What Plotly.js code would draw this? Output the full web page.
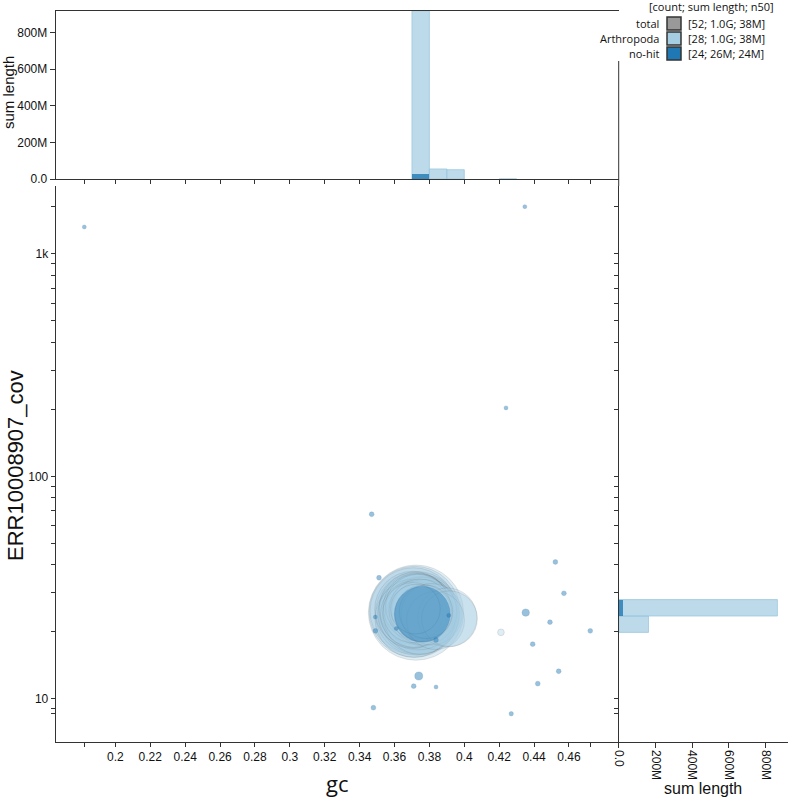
<!DOCTYPE html>
<html><head><meta charset="utf-8">
<script src="https://cdn.plot.ly/plotly-3.0.1.min.js"></script>
<style>html,body{margin:0;padding:0;background:#fff}#chart{width:790px;height:798px}</style>
</head><body><div id="chart"></div>
<script>
// ---------- data ----------
// Arthropoda contigs: gc, coverage, length (Mb)
const arthGc  = [0.3723,0.3715,0.3708,0.3730,0.3740,0.3712,0.3705,0.3725,0.3752,0.3718,0.3735,0.3745,0.3702,0.3760,0.3728,0.3710,0.3770,0.3733,0.3748,0.3706,0.3812,0.3903,0.3835,0.3765,0.3915,0.3780,0.3720,0.4210];
const arthCov = [24.4,24.6,24.8,24.2,24.0,23.0,25.2,24.9,24.3,25.5,23.9,22.8,24.1,24.7,25.8,24.0,24.5,26.0,25.0,24.4,24.0,23.2,22.5,24.2,22.9,24.6,25.3,19.9];
const arthLen = [70,64,58,54,50,47,45,43,41,40,39,38,37,36,35,34,33,32,30,28,29,27,26,25,24,22,19,0.35];
// no-hit contigs
const nohitGc  = [0.3759,0.3469,0.3511,0.3490,0.3490,0.3610,0.3838,0.3911,0.3739,0.3710,0.3838,0.3479,0.4269,0.4352,0.4392,0.4491,0.4522,0.4571,0.4722,0.4541,0.4421,0.4347,0.1822,0.4239];
const nohitCov = [24.0,67.5,35.0,23.3,20.2,20.7,18.4,23.7,12.66,11.4,11.3,9.12,8.57,24.4,17.6,22.1,41.2,29.8,20.2,13.3,11.7,1629,1320,203];
const nohitLen = [24,0.18,0.18,0.12,0.18,0.12,0.18,0.12,0.5,0.18,0.06,0.18,0.15,0.43,0.18,0.18,0.18,0.18,0.18,0.18,0.18,0.06,0.06,0.12];

const xTickVals = [0.2,0.22,0.24,0.26,0.28,0.3,0.32,0.34,0.36,0.38,0.4,0.42,0.44,0.46];
const lenTickVals = [0,200,400,600,800];
const lenTickText = ['0.0','200M','400M','600M','800M'];
const covLabelVals = [10,100,1000];
const covLabelText = ['10','100','1k'];
const legendHeader = '[count; sum length; n50]';
const legendNames = ['total','Arthropoda','no-hit'];
const legendStats = ['[52; 1.0G; 38M]','[28; 1.0G; 38M]','[24; 26M; 24M]'];

// ---------- styles / geometry ----------
const W=790,H=798;
const fx=p=>p/W, fy=p=>1-p/H;
const X0=55.7, X1=618.7, X2=787.7;
const YT=10.7, YH=179, YM=186, YB=741.7;
const XR=[0.1658,0.4885];
const YR=[0.8072,3.3047];
const LENMAX=920;
const SREF = 24/(39.4*39.4);
const COL = {arth:'#a6cee3', nohit:'#1f78b4', total:'#999999'};
const axisCol='#333';
const tickFont={family:'Liberation Sans, Arial, sans-serif',size:12,color:'#111'};

const allCov = arthCov.concat(nohitCov);
const allGc = arthGc.concat(nohitGc);
const covMin=Math.min(...allCov), covMax=Math.max(...allCov);
const gcMin=Math.min(...allGc), gcMax=Math.max(...allGc);

// ticks
const xtv=[gcMin].concat(xTickVals,[gcMax]);
const xtt=[''].concat(xTickVals.map(v=>String(v)),['']);
let ctv=[covMin];
for(let d=1;d<=1000;d*=10){for(let m=1;m<=9;m++){const v=m*d; if(v>covMin&&v<covMax) ctv.push(v);}}
ctv.push(covMax);
const ctt=ctv.map(v=>{const i=covLabelVals.indexOf(v);return i>=0?covLabelText[i]:'';});

const lightBar={color:'rgba(166,206,227,0.75)',line:{color:'rgba(150,196,222,0.9)',width:0.8}};
const darkBar={color:'rgba(31,120,180,0.8)',line:{width:0}};
const yb={start:1.2985-0.0737*7,end:3.5,size:0.0737};
const xb={start:0.16,end:0.5,size:0.01};

const traces=[
  {type:'scatter',mode:'markers',x:arthGc,y:arthCov,xaxis:'x',yaxis:'y',hoverinfo:'skip',
   marker:{size:arthLen,sizemode:'area',sizeref:SREF,sizemin:2,color:'rgba(166,206,227,0.5)',
   line:{color:'rgba(80,80,80,0.28)',width:0.7}}},
  {type:'scatter',mode:'markers',x:nohitGc,y:nohitCov,xaxis:'x',yaxis:'y',hoverinfo:'skip',
   marker:{size:nohitLen,sizemode:'area',sizeref:SREF,sizemin:2,color:'rgba(31,120,180,0.65)',
   line:{color:'rgba(31,100,160,0.5)',width:0.5}}},
  {type:'histogram',x:arthGc,y:arthLen,histfunc:'sum',xbins:xb,xaxis:'x2',yaxis:'y2',marker:lightBar,hoverinfo:'skip'},
  {type:'histogram',x:nohitGc,y:nohitLen,histfunc:'sum',xbins:xb,xaxis:'x2',yaxis:'y2',marker:darkBar,hoverinfo:'skip'},
  {type:'histogram',orientation:'h',y:arthCov.map(Math.log10),x:arthLen,histfunc:'sum',ybins:yb,xaxis:'x3',yaxis:'y3',marker:lightBar,hoverinfo:'skip'},
  {type:'histogram',orientation:'h',y:nohitCov.map(Math.log10),x:nohitLen,histfunc:'sum',ybins:yb,xaxis:'x3',yaxis:'y3',marker:darkBar,hoverinfo:'skip'}
];

const baseAx={showgrid:false,zeroline:false,showline:true,linecolor:axisCol,linewidth:1,ticks:'outside',ticklen:4,tickcolor:axisCol,tickfont:tickFont,fixedrange:true};

const ann=[
  {text:'gc',x:fx(337),y:fy(783),xref:'paper',yref:'paper',showarrow:false,font:{family:'Open Sans',size:22,color:'#111'},xanchor:'center',yanchor:'middle'},
  {text:'ERR10008907_cov',x:fx(15),y:fy(466),xref:'paper',yref:'paper',showarrow:false,textangle:-90,font:{family:'Liberation Sans, Arial',size:22,color:'#111'},xanchor:'center',yanchor:'middle'},
  {text:'sum length',x:fx(9),y:fy(93),xref:'paper',yref:'paper',showarrow:false,textangle:-90,font:{family:'Liberation Sans, Arial',size:15,color:'#111'},xanchor:'center',yanchor:'middle'},
  {text:'sum length',x:fx(703),y:fy(788),xref:'paper',yref:'paper',showarrow:false,font:{family:'Liberation Sans, Arial',size:16,color:'#111'},xanchor:'center',yanchor:'middle'},
  {text:legendHeader,x:fx(711),y:fy(6.5),xref:'paper',yref:'paper',showarrow:false,font:{family:'Open Sans',size:11,color:'#111'},xanchor:'center',yanchor:'middle'}
];
const shapes=[
  {type:'line',xref:'paper',yref:'paper',x0:fx(X1),x1:fx(X1),y0:fy(61),y1:fy(YM),line:{color:axisCol,width:1}}
];
const legCols=[COL.total,COL.arth,COL.nohit];
const rowY=[23.5,38.5,53.5];
legendNames.forEach((n,i)=>{
  ann.push({text:n,x:fx(661),y:fy(rowY[i]),xref:'paper',yref:'paper',showarrow:false,font:{family:'Open Sans',size:11,color:'#111'},xanchor:'right',yanchor:'middle'});
  ann.push({text:legendStats[i],x:fx(686),y:fy(rowY[i]),xref:'paper',yref:'paper',showarrow:false,font:{family:'Open Sans',size:11,color:'#111'},xanchor:'left',yanchor:'middle'});
  shapes.push({type:'rect',xref:'paper',yref:'paper',x0:fx(667),x1:fx(681),y0:fy(rowY[i]+6.5),y1:fy(rowY[i]-6.5),fillcolor:legCols[i],line:{color:'#333',width:1.5}});
});

const layout={
  width:W,height:H,margin:{l:0,r:0,t:0,b:0},paper_bgcolor:'#fff',plot_bgcolor:'rgba(0,0,0,0)',
  showlegend:false,barmode:'overlay',bargap:0,
  xaxis:Object.assign({},baseAx,{domain:[fx(X0),fx(X1)],range:XR,anchor:'y',tickvals:xtv,ticktext:xtt,tickangle:0}),
  yaxis:Object.assign({},baseAx,{domain:[fy(YB),fy(YM)],type:'log',range:YR,anchor:'x',tickvals:ctv,ticktext:ctt}),
  xaxis2:Object.assign({},baseAx,{domain:[fx(X0),fx(X1)],range:XR,anchor:'y2',tickvals:xtv,showticklabels:false,mirror:true}),
  yaxis2:Object.assign({},baseAx,{domain:[fy(YH),fy(YT)],range:[0,LENMAX],anchor:'x2',tickvals:lenTickVals,ticktext:lenTickText,ticklen:5}),
  xaxis3:Object.assign({},baseAx,{domain:[fx(X1),fx(X2)],range:[0,LENMAX],anchor:'y3',tickvals:lenTickVals,ticktext:lenTickText,tickangle:90,ticklen:5}),
  yaxis3:Object.assign({},baseAx,{domain:[fy(YB),fy(YM)],range:YR,anchor:'x3',tickvals:ctv.map(Math.log10),showticklabels:false}),
  annotations:ann,shapes:shapes
};
Plotly.newPlot('chart',traces,layout,{displayModeBar:false,staticPlot:true});
</script></body></html>
